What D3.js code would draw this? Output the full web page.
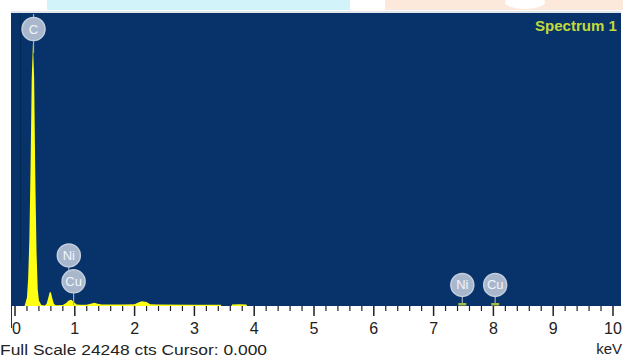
<!DOCTYPE html>
<html><head><meta charset="utf-8">
<script src="https://cdn.jsdelivr.net/npm/d3@7"></script>
<style>html,body{margin:0;padding:0;background:#fff;}svg{display:block;}</style>
</head><body>
<script>
// ---- data ----
const energyKeV = [0.00,0.10,0.16,0.20,0.22,0.24,0.26,0.28,0.30,0.32,0.34,0.36,0.38,0.40,0.44,0.50,0.53,0.56,0.58,0.60,0.62,0.65,0.68,0.72,0.80,0.85,0.90,0.94,0.98,1.03,1.10,1.20,1.28,1.33,1.38,1.45,1.80,2.00,2.06,2.12,2.20,2.26,2.40,3.00,3.44,3.45,3.62,3.63,3.75,3.87,3.88,10.0];
const counts    = [0,   0,   0,   700, 2300,5500,11500,19000,21800,19000,10500,4500,1400,450, 80,  40,  200, 750, 1150,1150,700, 180, 70,  70,  90,  220, 460, 520, 360, 130, 100, 110, 200, 270, 190, 130, 130, 140, 300, 390, 330, 150, 120, 110, 110, 0,   0,   120, 150, 120, 0,   0];
const fullScale = 24248;
const xTicks = [0,1,2,3,4,5,6,7,8,9,10];
const lineLabels   = ["C","Ni","Cu","Ni","Cu"];
const lineEnergies = [0.31,0.90,0.98,7.48,8.03];
const lineLabelCounts = [23000,4200,2050,1750,1750];
const lineStemEndCounts = [21000,2050,60,0,0];
const spectrumName = "Spectrum 1";
const footerText = "Full Scale 24248 cts Cursor: 0.000";
const unitLabel = "keV";

// ---- layout ----
const W = 623, H = 358;
const FONT = "Liberation Sans, Arial, sans-serif";
const svg = d3.select("body").append("svg").attr("width", W).attr("height", H);
const defs = svg.append("defs");
defs.append("filter").attr("id","soft").attr("x","-30%").attr("y","-30%").attr("width","160%").attr("height","160%")
  .append("feGaussianBlur").attr("stdDeviation",0.7);
const plot = {left: 11, right: 621, top: 13, bottom: 306};
const x = d3.scaleLinear().domain([0,10]).range([15, 613]);
const y = d3.scaleLinear().domain([0, fullScale]).range([plot.bottom, 14]);

// top screenshot strip
svg.append("rect").attr("x",47).attr("y",0).attr("width",303).attr("height",10).attr("fill","#d3f3fb");
svg.append("rect").attr("x",385).attr("y",0).attr("width",238).attr("height",10).attr("fill","#fde8dc");
svg.append("ellipse").attr("cx",525).attr("cy",2).attr("rx",20).attr("ry",7).attr("fill","#ffffff");
svg.append("line").attr("x1",plot.left).attr("x2",plot.right).attr("y1",12).attr("y2",12).attr("stroke","#d8dde4").attr("stroke-width",1.5);

// plot background
svg.append("rect").attr("x",plot.left).attr("y",plot.top)
  .attr("width",plot.right-plot.left).attr("height",plot.bottom-plot.top).attr("fill","#07336a");
svg.append("line").attr("x1",20.5).attr("x2",20.5).attr("y1",14).attr("y2",262)
  .attr("stroke","#032a55").attr("stroke-width",1.2);

// spectrum
const pts = energyKeV.map((e,i)=>[e,counts[i]]);
const area = d3.area().x(d=>x(d[0])).y0(y(0)).y1(d=>y(d[1]));
svg.append("path").datum(pts).attr("d",area).attr("fill","#ffff14");

// spectrum name
svg.append("text").attr("x",617).attr("y",31).attr("text-anchor","end")
  .attr("font-family",FONT).attr("font-size",14).attr("font-weight","bold")
  .attr("textLength",82).attr("lengthAdjust","spacingAndGlyphs")
  .attr("fill","#c2da3a").text(spectrumName);

// x axis ticks
const g = svg.append("g");
const minor = d3.range(0, 50).map(i=>i*0.2).filter((v,i)=>i%5!==0);
g.selectAll("line.minor").data(minor).enter().append("line")
  .attr("x1",d=>x(d)).attr("x2",d=>x(d)).attr("y1",plot.bottom).attr("y2",plot.bottom+5)
  .attr("stroke","#222").attr("stroke-width",1.2);
g.selectAll("line.major").data(xTicks).enter().append("line")
  .attr("x1",d=>x(d)).attr("x2",d=>x(d)).attr("y1",plot.bottom).attr("y2",plot.bottom+10)
  .attr("stroke","#222").attr("stroke-width",1.5);
g.selectAll("text.tl").data(xTicks).enter().append("text")
  .attr("x",d=> d===0 ? x(d)-3 : x(d)).attr("y",334)
  .attr("text-anchor",d=> d===0 ? "start" : "middle")
  .attr("font-family",FONT).attr("font-size",16)
  .attr("fill","#222").text(d=>d);
svg.append("line").attr("x1",11.5).attr("x2",11.5).attr("y1",plot.bottom).attr("y2",328)
  .attr("stroke","#333").attr("stroke-width",1);

// footer
svg.append("text").attr("x",0).attr("y",355)
  .attr("font-family",FONT).attr("font-size",15)
  .attr("textLength",267).attr("lengthAdjust","spacingAndGlyphs")
  .attr("fill","#222").text(footerText);
svg.append("text").attr("x",622).attr("y",354).attr("text-anchor","end")
  .attr("font-family",FONT).attr("font-size",15)
  .attr("fill","#222").text(unitLabel);

// element markers
const R = 11.5;
const markers = lineLabels.map((l,i)=>({l, e:lineEnergies[i], c:lineLabelCounts[i], s:lineStemEndCounts[i]}));
const mg = svg.append("g");
mg.append("line").attr("x1",x(lineEnergies[0])).attr("x2",x(lineEnergies[0]))
  .attr("y1",plot.top+1).attr("y2",y(lineLabelCounts[0])).attr("stroke","#9eaabd").attr("stroke-width",1.2);
mg.selectAll("line.stem").data(markers).enter().append("line")
  .attr("x1",d=>x(d.e)).attr("x2",d=>x(d.e))
  .attr("y1",d=>y(d.c)).attr("y2",d=>d.s===0 ? y(0)-2 : y(d.s))
  .attr("stroke","#9eaabd").attr("stroke-width",1.2);
mg.selectAll("rect.base").data(markers.filter(d=>d.s===0)).enter().append("rect")
  .attr("x",d=>x(d.e)-4).attr("y",y(0)-3).attr("width",8).attr("height",2.5).attr("fill","#a7b83e");
mg.selectAll("circle").data(markers).enter().append("circle")
  .attr("cx",d=>x(d.e)).attr("cy",d=>y(d.c)).attr("r",R)
  .attr("fill","#a9b7cd").attr("stroke","#c4cedd").attr("stroke-width",1.5)
  .attr("filter","url(#soft)");
mg.selectAll("text.el").data(markers).enter().append("text")
  .attr("x",d=>x(d.e)).attr("y",d=>y(d.c)+4.5).attr("text-anchor","middle")
  .attr("font-family",FONT).attr("font-size",13)
  .attr("fill","#f2f5fa").text(d=>d.l);
</script>
</body></html>
